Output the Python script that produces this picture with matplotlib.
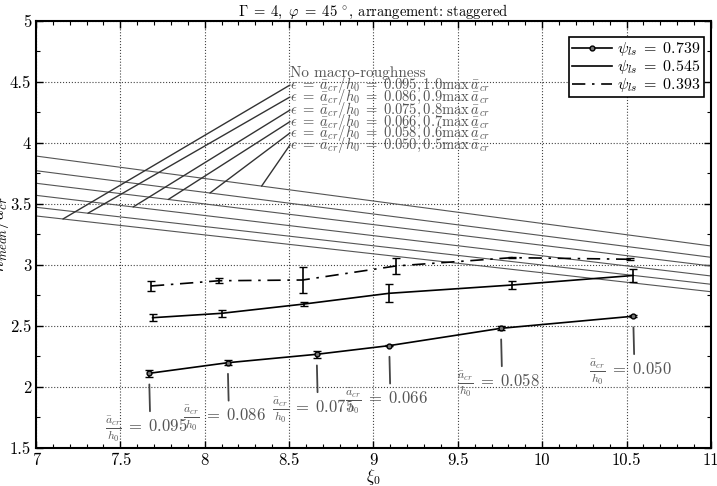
import numpy as np
import matplotlib.pyplot as plt
from matplotlib.lines import Line2D
from matplotlib.ticker import MultipleLocator, FormatStrFormatter

plt.rcParams['font.family'] = 'serif'
plt.rcParams['font.serif'] = ['cmr10']
plt.rcParams['mathtext.fontset'] = 'cm'
plt.rcParams['axes.formatter.use_mathtext'] = True

# measured series (xi_0, h_mean/a_cr, error bar half width)
xi_739 = [7.670, 8.136, 8.663, 9.093, 9.755, 10.539]
h_739 = [2.112, 2.199, 2.268, 2.339, 2.481, 2.580]
err_739 = [0.030, 0.020, 0.030, 0.005, 0.015, 0.010]

xi_545 = [7.691, 8.100, 8.588, 9.093, 9.822, 10.539]
h_545 = [2.568, 2.604, 2.680, 2.768, 2.836, 2.914]
err_545 = [0.030, 0.030, 0.020, 0.074, 0.036, 0.050]

xi_393 = [7.681, 8.086, 8.580, 9.133, 9.820, 10.519]
h_393 = [2.828, 2.871, 2.877, 2.992, 3.060, 3.047]
err_393 = [0.044, 0.022, 0.105, 0.064, 0.005, 0.010]

# a_cr/h0 of each point of the psi=0.739 series
acr_739 = ['0.095', '0.086', '0.075', '0.066', '0.058', '0.050']

# reference lines (macro-roughness), top to bottom
rough_x = [7, 11]
rough_y = [[3.893, 3.156],
           [3.773, 3.063],
           [3.670, 2.992],
           [3.571, 2.910],
           [3.473, 2.842],
           [3.402, 2.781]]
rough_acr = ['0.050', '0.058', '0.066', '0.075', '0.086', '0.095']
rough_frac = ['0.5', '0.6', '0.7', '0.8', '0.9', '1.0']
rough_hit_x = [8.337, 8.031, 7.784, 7.576, 7.308, 7.160]

fig = plt.figure(figsize=(7.17, 4.86), dpi=100)
ax = fig.add_axes([0.0502, 0.0782, 0.9414, 0.8786])

gray = '#555555'
for ys in rough_y:
    ax.plot(rough_x, ys, color=gray, lw=0.8)

dashdot = (0, (8, 4, 1.5, 4))
ax.errorbar(xi_739, h_739, yerr=err_739, color='k', lw=1.2, capsize=3.2,
            marker='o', ms=3.5, mfc='#777777', mec='k')
ax.errorbar(xi_545, h_545, yerr=err_545, color='k', lw=1.2, capsize=3.2)
ax.errorbar(xi_393, h_393, yerr=err_393, color='k', lw=1.2, capsize=3.2, ls=dashdot)

# labels for the macro-roughness lines
text_x = 8.505
ax.text(text_x, 4.574, 'No macro-roughness', fontsize=11, color=gray,
        ha='left', va='center')
label_y = [3.984, 4.082, 4.175, 4.270, 4.377, 4.475]
for ys, acr, frac, hx, ty in zip(rough_y, rough_acr, rough_frac, rough_hit_x, label_y):
    hy = np.interp(hx, rough_x, ys)
    ax.annotate(r'$\epsilon\;=\;\bar{a}_{cr}/h_0\;=\;%s,%s\max\,\bar{a}_{cr}$' % (acr, frac),
                xy=(hx, hy), xytext=(text_x, ty), fontsize=10.5, color=gray,
                ha='left', va='center',
                arrowprops=dict(arrowstyle='-', color='#333333', lw=1.0,
                                relpos=(0, 0.5), patchA=None, shrinkA=0, shrinkB=0))

# a_cr/h0 labels under the psi=0.739 points
for x, y, acr in zip(xi_739, h_739, acr_739):
    ax.annotate(r'$\frac{\bar{a}_{cr}}{h_0}\;=\;%s$' % acr, xy=(x, y),
                xytext=(-2, -40), textcoords='offset points', fontsize=12,
                color=gray, ha='center', va='center',
                arrowprops=dict(arrowstyle='-', color='#444444', lw=1.3,
                                relpos=(0.55, 0.5), shrinkA=0, shrinkB=8))

ax.set_xlim(7, 11)
ax.set_ylim(1.5, 5)
ax.xaxis.set_major_locator(MultipleLocator(0.5))
ax.xaxis.set_minor_locator(MultipleLocator(0.1))
ax.yaxis.set_major_locator(MultipleLocator(0.5))
ax.yaxis.set_minor_locator(MultipleLocator(0.25))
ax.xaxis.set_major_formatter(FormatStrFormatter('%g'))
ax.yaxis.set_major_formatter(FormatStrFormatter('%g'))
ax.tick_params(which='both', direction='in', top=True, right=True, labelsize=12)
ax.tick_params(which='major', length=5, width=1)
ax.tick_params(which='minor', length=3, width=0.8)
ax.grid(True, which='major', ls=':', color='#444444', lw=0.8)
for s in ax.spines.values():
    s.set_linewidth(1.5)

ax.set_xlabel(r'$\xi_0$', fontsize=12, labelpad=-1)
ax.set_ylabel(r'$\bar{h}_{mean}/\bar{a}_{cr}$', fontsize=13)
ax.yaxis.set_label_coords(-0.036, 0.5)
ax.set_title(r'$\Gamma\;=\;4,\ \varphi\;=\;45\,^\circ$, arrangement: staggered',
             fontsize=10.5, pad=4)

handles = [Line2D([], [], color='k', lw=1.2, marker='o', ms=3.5, mfc='#777777', mec='k'),
           Line2D([], [], color='k', lw=1.2),
           Line2D([], [], color='k', lw=1.2, ls=dashdot)]
labels = [r'$\psi_{ls}\;=\;0.739$', r'$\psi_{ls}\;=\;0.545$', r'$\psi_{ls}\;=\;0.393$']
leg = ax.legend(handles, labels, loc='upper right', bbox_to_anchor=(0.9896, 0.9625),
                borderaxespad=0, fontsize=11.5, handlelength=2.5, handletextpad=0.35,
                labelspacing=0.0, borderpad=0.2, fancybox=False, framealpha=1,
                edgecolor='k')
leg.get_frame().set_linewidth(1.2)

fig.savefig('out.png', dpi=100)
